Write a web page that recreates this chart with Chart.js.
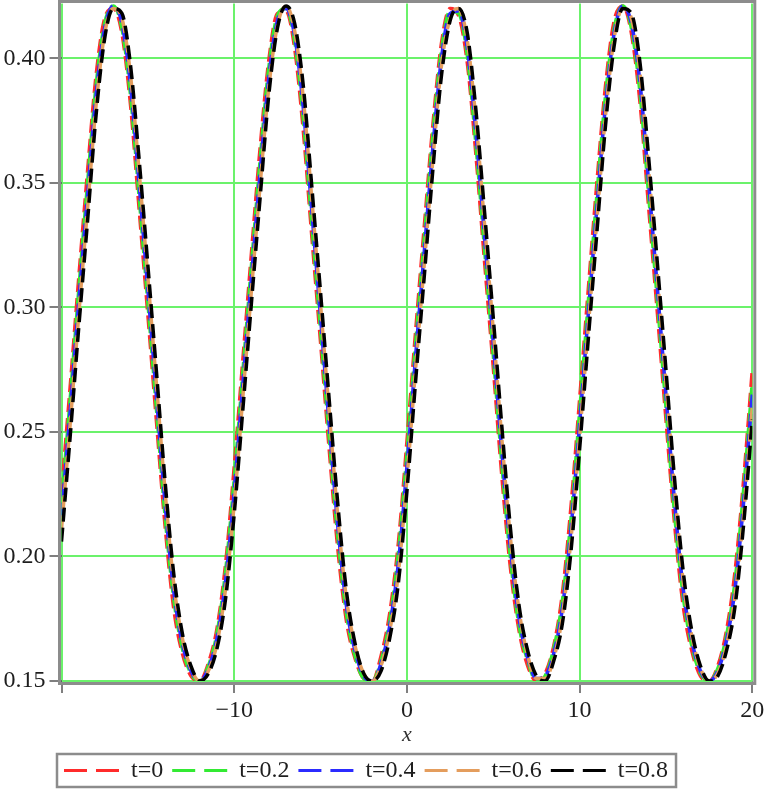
<!DOCTYPE html>
<html>
<head>
<meta charset="utf-8">
<script src="https://cdn.jsdelivr.net/npm/chart.js@4/dist/chart.umd.min.js"></script>
<style>
html,body{margin:0;padding:0;background:#fff;}
canvas{display:block;}
</style>
</head>
<body>
<canvas id="c" width="766" height="791" style="width:766px;height:791px"></canvas>
<script>
// ---- data ----
const xValues = [-20,-19.5,-19,-18.5,-18,-17.5,-17,-16.5,-16,-15.5,-15,-14.5,-14,-13.5,-13,-12.5,-12,
  -11.5,-11,-10.5,-10,-9.5,-9,-8.5,-8,-7.5,-7,-6.5,-6,-5.5,-5,-4.5,-4,-3.5,-3,-2.5,-2,
  -1.5,-1,-0.5,0,0.5,1,1.5,2,2.5,3,3.5,4,4.5,5,5.5,6,6.5,7,7.5,8,
  8.5,9,9.5,10,10.5,11,11.5,12,12.5,13,13.5,14,14.5,15,15.5,16,16.5,17,17.5,18,18.5,19,19.5,20];

const seriesLabels = ['t=0','t=0.2','t=0.4','t=0.6','t=0.8'];

const u_t00 = [0.226,0.268,0.312,0.354,0.393,0.416,0.420,0.410,0.381,0.339,0.297,0.254,0.212,0.179,0.161,0.152,0.150,
  0.157,0.171,0.197,0.236,0.279,0.322,0.364,0.399,0.418,0.419,0.404,0.371,0.328,0.286,0.243,0.203,0.174,0.159,0.151,0.150,
  0.160,0.177,0.205,0.246,0.290,0.332,0.373,0.406,0.420,0.417,0.398,0.361,0.318,0.276,0.232,0.195,0.170,0.156,0.150,0.153,
  0.164,0.185,0.220,0.263,0.307,0.350,0.389,0.415,0.421,0.410,0.382,0.340,0.298,0.255,0.213,0.180,0.162,0.152,0.150,0.156,0.170,0.194,0.231,0.275];

const u_t02 = [0.221,0.263,0.307,0.349,0.389,0.414,0.421,0.412,0.385,0.344,0.302,0.259,0.216,0.183,0.163,0.153,0.150,
  0.156,0.169,0.194,0.231,0.274,0.317,0.359,0.396,0.417,0.420,0.407,0.376,0.333,0.291,0.248,0.208,0.177,0.160,0.151,0.150,
  0.158,0.174,0.201,0.241,0.285,0.327,0.369,0.403,0.419,0.418,0.401,0.365,0.323,0.281,0.237,0.199,0.172,0.158,0.150,0.152,
  0.163,0.182,0.215,0.258,0.302,0.345,0.385,0.412,0.421,0.412,0.386,0.345,0.303,0.260,0.217,0.184,0.164,0.153,0.150,0.155,0.168,0.190,0.227,0.270];

const u_t04 = [0.216,0.258,0.302,0.344,0.385,0.412,0.421,0.414,0.389,0.349,0.307,0.264,0.221,0.186,0.165,0.154,0.150,
  0.155,0.167,0.190,0.226,0.269,0.312,0.354,0.392,0.415,0.420,0.409,0.380,0.338,0.296,0.253,0.212,0.180,0.162,0.152,0.150,
  0.157,0.172,0.197,0.236,0.280,0.322,0.364,0.400,0.418,0.419,0.404,0.370,0.328,0.286,0.242,0.203,0.175,0.159,0.151,0.152,
  0.161,0.179,0.211,0.253,0.297,0.340,0.381,0.410,0.421,0.414,0.390,0.350,0.308,0.265,0.222,0.187,0.166,0.154,0.150,0.154,0.166,0.187,0.222,0.265];

const u_t06 = [0.211,0.253,0.297,0.339,0.381,0.410,0.420,0.416,0.393,0.354,0.312,0.269,0.226,0.189,0.167,0.155,0.150,
  0.154,0.165,0.187,0.221,0.264,0.307,0.349,0.388,0.413,0.421,0.411,0.384,0.343,0.301,0.258,0.216,0.183,0.164,0.153,0.150,
  0.156,0.170,0.193,0.231,0.275,0.317,0.359,0.397,0.416,0.420,0.407,0.375,0.333,0.291,0.247,0.207,0.178,0.160,0.151,0.151,
  0.159,0.176,0.207,0.248,0.292,0.335,0.377,0.408,0.420,0.416,0.394,0.355,0.313,0.270,0.227,0.190,0.168,0.155,0.150,0.153,0.164,0.184,0.217,0.260];

const u_t08 = [0.206,0.248,0.292,0.334,0.377,0.408,0.420,0.418,0.397,0.359,0.317,0.274,0.230,0.193,0.169,0.156,0.150,
  0.153,0.163,0.183,0.217,0.259,0.302,0.344,0.385,0.412,0.421,0.414,0.389,0.348,0.306,0.263,0.221,0.186,0.165,0.153,0.150,
  0.154,0.167,0.189,0.226,0.270,0.312,0.355,0.393,0.415,0.420,0.410,0.379,0.338,0.296,0.252,0.211,0.180,0.162,0.152,0.150,
  0.158,0.173,0.202,0.243,0.287,0.330,0.373,0.405,0.420,0.418,0.398,0.360,0.318,0.275,0.231,0.194,0.170,0.156,0.150,0.152,0.162,0.180,0.213,0.255];

const xTicks = [-20,-10,0,10,20];
const yTicks = [0.15,0.20,0.25,0.30,0.35,0.40];
const seriesColors = ['#ff2b2b','#33ea33','#2b2bff','#e49d5d','#000000'];

// ---- chart ----
const seriesValues = [u_t00,u_t02,u_t04,u_t06,u_t08];
const serif = "'Liberation Serif','Times New Roman',serif";

const legendPos = {
  id: 'legendPos',
  afterLayout(chart) {
    const lg = chart.legend;
    const w = lg.right - lg.left;
    lg.left = 55;
    lg.right = 55 + w;
    lg.top += 1.5;
  }
};

const frame = {
  id: 'frame',
  afterDraw(chart) {
    const a = chart.chartArea;
    const ctx = chart.ctx;
    ctx.save();
    ctx.setLineDash([]);
    ctx.strokeStyle = '#8c8c8c';
    ctx.lineWidth = 3;
    ctx.strokeRect(a.left - 2, a.top - 2, a.right - a.left + 4.5, a.bottom - a.top + 4.5);
    // legend box
    const lg = chart.legend;
    const pad = lg.options.labels.padding;
    const fs = lg.options.labels.font.size;
    const bx = lg.left + pad - 7;
    const bRight = lg.left + lg.lineWidths[0] + 8;
    const cy = lg.top + pad + fs / 2;
    ctx.lineWidth = 2.5;
    ctx.strokeRect(bx, cy - 16.5, bRight - bx, 33);
    ctx.restore();
  }
};

new Chart(document.getElementById('c'), {
  type: 'line',
  data: {
    datasets: seriesValues.map((ys, k) => ({
      label: seriesLabels[k],
      data: xValues.map((x, i) => ({x: x, y: ys[i]})),
      borderColor: seriesColors[k],
      backgroundColor: seriesColors[k],
      borderWidth: 3.5,
      borderDash: [14, 6],
      pointRadius: 0,
      fill: false,
      cubicInterpolationMode: 'monotone',
      order: seriesValues.length - 1 - k
    }))
  },
  options: {
    responsive: false,
    animation: false,
    devicePixelRatio: 1,
    layout: {padding: {top: 3.5, left: 0, right: 13.7, bottom: 0}},
    scales: {
      x: {
        type: 'linear',
        min: -20, max: 20,
        afterBuildTicks: s => { s.ticks = xTicks.map(v => ({value: v})); },
        afterFit: s => { s.height = 67; s.paddingLeft = 0; s.paddingRight = 0; },
        grid: {color: '#6bf26b', lineWidth: 2, tickLength: 12, tickColor: '#555555', tickWidth: 1.5},
        border: {display: false},
        ticks: {
          color: '#1e1e1e', font: {family: serif, size: 24}, padding: 3,
          maxRotation: 0, autoSkip: false,
          callback: v => v === -20 ? '' : (v < 0 ? '\u2212' + Math.abs(v) : String(v))
        },
        title: {display: true, text: 'x', color: '#333333',
          font: {family: serif, size: 22, style: 'italic'}, padding: {top: 0, bottom: 0}}
      },
      y: {
        type: 'linear',
        min: 0.15, max: 0.422,
        afterBuildTicks: s => { s.ticks = yTicks.map(v => ({value: v})); },
        afterFit: s => { s.width = 61.5; s.paddingTop = 0; s.paddingBottom = 0; },
        grid: {color: '#6bf26b', lineWidth: 2, tickLength: 12, tickColor: '#555555', tickWidth: 1.5},
        border: {display: false},
        ticks: {color: '#1e1e1e', font: {family: serif, size: 24}, padding: 4,
          callback: v => Number(v).toFixed(2)}
      }
    },
    plugins: {
      legend: {
        position: 'bottom',
        align: 'start',
        labels: {
          usePointStyle: true,
          pointStyle: 'line',
          pointStyleWidth: 55,
          padding: 9,
          color: '#1e1e1e',
          font: {family: serif, size: 24},
          sort: (a, b) => a.datasetIndex - b.datasetIndex,
          generateLabels: chart => {
            const items = Chart.defaults.plugins.legend.labels.generateLabels(chart);
            items.forEach(it => { it.lineDash = [23, 9]; it.lineWidth = 3; });
            return items;
          }
        }
      },
      tooltip: {enabled: false}
    }
  },
  plugins: [legendPos, frame]
});
</script>
</body>
</html>
